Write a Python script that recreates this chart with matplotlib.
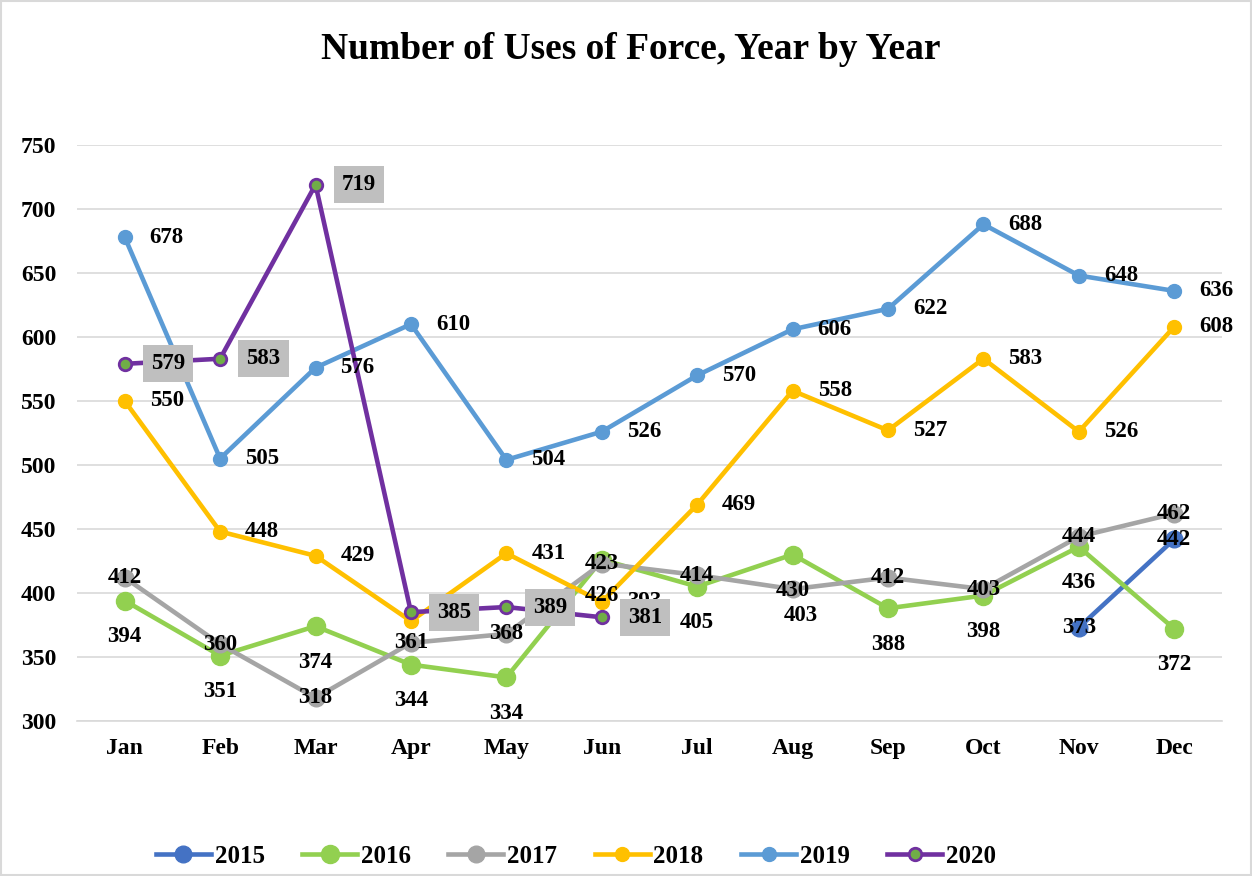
import numpy as np
import matplotlib.pyplot as plt
from matplotlib.patches import Rectangle

plt.rcParams['font.family'] = ['Liberation Serif', 'DejaVu Serif']
plt.rcParams['font.weight'] = 'bold'

months = ["Jan", "Feb", "Mar", "Apr", "May", "Jun", "Jul", "Aug", "Sep", "Oct", "Nov", "Dec"]
nan = np.nan
y2015 = [nan, nan, nan, nan, nan, nan, nan, nan, nan, nan, 373, 442]
y2016 = [394, 351, 374, 344, 334, 426, 405, 430, 388, 398, 436, 372]
y2017 = [412, 360, 318, 361, 368, 423, 414, 403, 412, 403, 444, 462]
y2018 = [550, 448, 429, 378, 431, 393, 469, 558, 527, 583, 526, 608]
y2019 = [678, 505, 576, 610, 504, 526, 570, 606, 622, 688, 648, 636]
y2020 = [579, 583, 719, 385, 389, 381, nan, nan, nan, nan, nan, nan]

# (label, values, colour, marker size, label placement)
series = [
    ("2015", y2015, "#4472C4", 12, "center"),
    ("2016", y2016, "#92D050", 13, "below"),
    ("2017", y2017, "#A5A5A5", 12, "center"),
    ("2018", y2018, "#FFC000", 10, "right"),
    ("2019", y2019, "#5B9BD5", 10, "right"),
    ("2020", y2020, "#7030A0", 9, "right"),
]

fig = plt.figure(figsize=(12.52, 8.76), dpi=100)
ax = fig.add_axes([0.0615, 0.177, 0.9145, 0.6575])
x = np.arange(len(months))

for name, vals, col, ms, pos in series:
    if name == "2020":
        ax.plot(x, vals, color=col, lw=3.3, marker="o", ms=ms, mfc="#70AD47",
                mec=col, mew=2, label=name, zorder=4)
    else:
        ax.plot(x, vals, color=col, lw=3.3, marker="o", ms=ms, label=name, zorder=3)

for name, vals, col, ms, pos in series:
    for xi, v in zip(x, vals):
        if np.isnan(v):
            continue
        if name == "2018" and xi == 3:
            continue  # hidden behind the 2020 label
        if pos == "right":
            kw = dict(xytext=(18, 0), ha="left", va="center")
        elif pos == "below":
            kw = dict(xytext=(0, -26), ha="center", va="center")
        else:
            kw = dict(xytext=(0, 0), ha="center", va="center")
        if name == "2017" and xi == 7:
            kw["xytext"] = (6, -19)
        box = None
        z = 6
        if name == "2020":
            kw["xytext"] = (19, 0)
            box = dict(boxstyle="square,pad=0.35", fc="#BFBFBF", ec="none")
            z = 7
        ax.annotate(str(int(v)), (xi, v), textcoords="offset points", fontsize=16.5,
                    fontweight="bold", bbox=box, zorder=z, **kw)

ax.set_xlim(-0.5, 11.5)
ax.set_ylim(300, 750)
ax.set_yticks(np.arange(300, 751, 50))
ax.set_xticks(x)
ax.set_xticklabels(months)
ax.grid(axis="y", color="#D9D9D9", lw=1.2)
ax.set_axisbelow(True)
for s in ["top", "right", "left"]:
    ax.spines[s].set_visible(False)
ax.spines["bottom"].set_color("#D9D9D9")
ax.spines["bottom"].set_linewidth(1.2)
ax.tick_params(axis="y", length=0, labelsize=17, pad=15)
ax.tick_params(axis="x", length=0, labelsize=17, pad=12)
for lab in ax.get_xticklabels() + ax.get_yticklabels():
    lab.set_fontweight("bold")

fig.text(0.504, 0.943, "Number of Uses of Force, Year by Year", fontsize=27,
         fontweight="bold", ha="center", va="center")

fig.legend(loc="center", bbox_to_anchor=(0.46, 0.022), ncol=6, frameon=False,
           handlelength=2.2, columnspacing=1.5, handletextpad=0.15,
           prop=dict(weight="bold", size=18))

fig.patches.append(Rectangle((0.001, 0.001), 0.998, 0.998, transform=fig.transFigure,
                             fill=False, ec="#D9D9D9", lw=1.5))

fig.savefig("out.png", dpi=100)
